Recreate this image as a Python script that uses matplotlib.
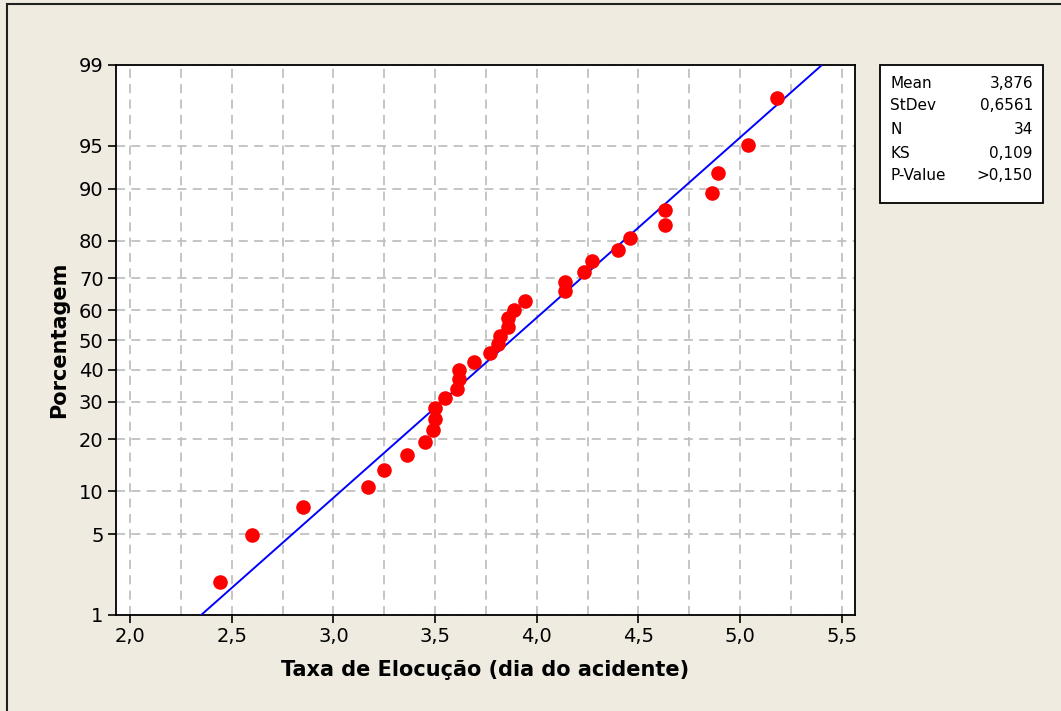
import matplotlib
matplotlib.use('agg')
from matplotlib import pyplot as plt
from matplotlib.lines import Line2D
from matplotlib.patches import Rectangle
from statistics import NormalDist
import numpy as np

plt.rcParams['font.family'] = 'DejaVu Sans'

# data
taxa = [2.44, 2.60, 2.85, 3.17, 3.25, 3.36, 3.45, 3.49, 3.50, 3.50,
        3.55, 3.61, 3.62, 3.62, 3.69, 3.77, 3.81, 3.82, 3.86, 3.86,
        3.89, 3.94, 4.14, 4.14, 4.23, 4.27, 4.40, 4.46, 4.63, 4.63,
        4.86, 4.89, 5.04, 5.18]
percent = [2.03, 4.94, 7.85, 10.76, 13.66, 16.57, 19.48, 22.38, 25.29, 28.20,
           31.10, 34.01, 36.92, 39.83, 42.73, 45.64, 48.55, 51.45, 54.36, 57.27,
           60.17, 63.08, 65.99, 68.90, 71.80, 74.71, 77.62, 80.52, 83.43, 86.34,
           89.24, 92.15, 95.06, 97.97]
y_ticks = [1, 5, 10, 20, 30, 40, 50, 60, 70, 80, 90, 95, 99]
x_ticks = [2.0, 2.5, 3.0, 3.5, 4.0, 4.5, 5.0, 5.5]
mean, stdev = 3.876, 0.6561
stats_labels = ['Mean', 'StDev', 'N', 'KS', 'P-Value']
stats_values = ['3,876', '0,6561', '34', '0,109', '>0,150']

bg = '#EFEBE1'
nd = NormalDist()

def z(p):
    return nd.inv_cdf(p / 100.0)

fig = plt.figure(figsize=(10.61, 7.11), dpi=100, facecolor=bg)
ax = fig.add_axes([116 / 1061, 1 - 615 / 711, (855 - 116) / 1061, (615 - 65) / 711])
ax.set_facecolor('white')

# fitted normal line
line_p = np.linspace(1, 99, 200)
line_z = [z(p) for p in line_p]
line_x = [mean + stdev * q for q in line_z]
ax.plot(line_x, line_z, color='#0000FF', lw=1.4, zorder=3)

ax.plot(taxa, [z(p) for p in percent], 'o', color='#FF0000', ms=10.5,
        markeredgewidth=0, zorder=4)

ax.set_xlim(1.931, 5.565)
ax.set_ylim(z(1), z(99))
ax.set_xticks(x_ticks)
ax.set_xticklabels([f'{v:.1f}'.replace('.', ',') for v in x_ticks])
ax.set_xticks(np.arange(2.25, 5.5, 0.5), minor=True)
ax.set_yticks([z(p) for p in y_ticks])
ax.set_yticklabels([str(p) for p in y_ticks])

ax.grid(True, which='both', color='#C0C0C0', linestyle=(0, (5, 3.5)), lw=1.3)
ax.set_axisbelow(True)
ax.tick_params(axis='both', which='major', length=6, width=1.2, labelsize=14, pad=3)
ax.tick_params(axis='x', which='minor', length=0)
for s in ax.spines.values():
    s.set_linewidth(1.3)

ax.set_xlabel('Taxa de Elocução (dia do acidente)', fontsize=15, fontweight='bold', labelpad=10)
ax.set_ylabel('Porcentagem', fontsize=15, fontweight='bold', labelpad=7)

# stats box
x0, x1 = 880 / 1061, 1043 / 1061
yt, yb = 1 - 65 / 711, 1 - 203 / 711
fig.patches.append(Rectangle((x0, yb), x1 - x0, yt - yb, transform=fig.transFigure,
                             facecolor='white', edgecolor='black', lw=1.3))
rows = [83, 106, 129, 153, 176]
for lab, val, r in zip(stats_labels, stats_values, rows):
    fig.text(890 / 1061, 1 - r / 711, lab, fontsize=11, va='center', ha='left')
    fig.text(1033 / 1061, 1 - r / 711, val, fontsize=11, va='center', ha='right')

# outer frame
fig.add_artist(Line2D([7 / 1061, 7 / 1061], [0, 1 - 4 / 711], transform=fig.transFigure,
                      color='#202020', lw=1.5))
fig.add_artist(Line2D([7 / 1061, 1], [1 - 4 / 711, 1 - 4 / 711], transform=fig.transFigure,
                      color='#202020', lw=1.5))

fig.savefig('out.png', dpi=100, facecolor=bg)
